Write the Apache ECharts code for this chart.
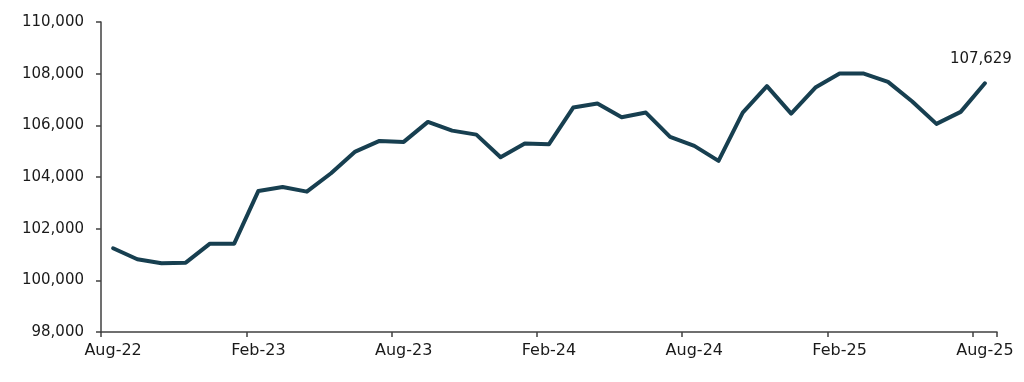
<!DOCTYPE html>
<html>
<head>
<meta charset="utf-8">
<script src="https://cdn.jsdelivr.net/npm/echarts@6/dist/echarts.min.js"></script>
<style>html,body{margin:0;padding:0;background:#fff}#c{width:1024px;height:382px}</style>
</head>
<body>
<div id="c"></div>
<script>
const categories = ["Aug-22","Sep-22","Oct-22","Nov-22","Dec-22","Jan-23","Feb-23","Mar-23","Apr-23","May-23","Jun-23","Jul-23",
  "Aug-23","Sep-23","Oct-23","Nov-23","Dec-23","Jan-24","Feb-24","Mar-24","Apr-24","May-24","Jun-24","Jul-24",
  "Aug-24","Sep-24","Oct-24","Nov-24","Dec-24","Jan-25","Feb-25","Mar-25","Apr-25","May-25","Jun-25","Jul-25","Aug-25"];
const values = [101242,100816,100661,100684,101420,101420,103461,103616,103434,104146,104983,105397,
  105359,106133,105796,105641,104766,105293,105270,106687,106842,106315,106494,105552,
  105204,104623,106494,107516,106455,107462,108004,108004,107683,106920,106056,106521,107629];
const yMin = 98000, yMax = 110000, yStep = 2000;

const FONT = '"DejaVu Sans", sans-serif';
const chart = echarts.init(document.getElementById('c'), null, {renderer:'canvas'});
const fmt = v => v.toLocaleString('en-US');
const last = values.length - 1;
chart.setOption({
  animation:false,
  grid:{left:101,right:27,top:22,bottom:50,containLabel:false},
  xAxis:{
    type:'category', data:categories, boundaryGap:true,
    axisLine:{lineStyle:{color:'#404040',width:1.5}},
    axisTick:{show:true,interval:5,length:5,lineStyle:{color:'#404040',width:1.5}},
    axisLabel:{interval:5,color:'#1a1a1a',fontSize:16,fontFamily:FONT,margin:11}
  },
  yAxis:{
    type:'value', min:yMin, max:yMax, interval:yStep,
    splitLine:{show:false},
    axisLine:{show:true,lineStyle:{color:'#404040',width:1.5}},
    axisTick:{show:true,length:5,lineStyle:{color:'#404040',width:1.5}},
    axisLabel:{color:'#1a1a1a',fontSize:15,fontFamily:FONT,margin:17,formatter:fmt}
  },
  series:[{
    type:'line',
    data:values.map((v,i)=> i===last ? {value:v,symbol:'circle',symbolSize:3,itemStyle:{color:'#173F50'},
      label:{show:true,position:'top',distance:15,offset:[-4,0],formatter:p=>fmt(p.value),color:'#1a1a1a',fontSize:15,fontFamily:FONT}} : {value:v,symbol:'none'}),
    showSymbol:true,
    itemStyle:{color:'#173F50'},
    lineStyle:{color:'#173F50',width:4,join:'round',cap:'round'}
  }]
});
</script>
</body>
</html>
